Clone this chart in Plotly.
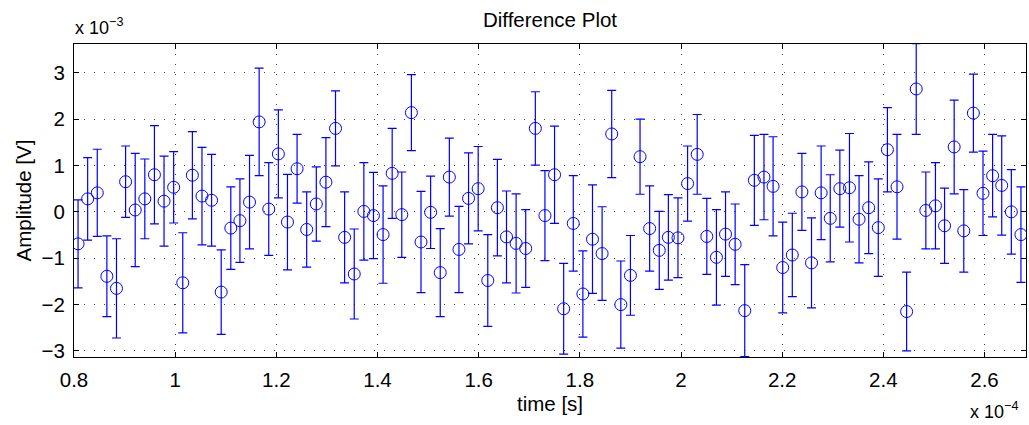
import plotly.graph_objects as go

# time in units of 1e-4 s
time_e4 = [0.808, 0.827, 0.846, 0.865, 0.884, 0.902, 0.921, 0.940, 0.959, 0.978,
           0.997, 1.015, 1.034, 1.053, 1.072, 1.091, 1.110, 1.128, 1.147, 1.166,
           1.185, 1.204, 1.222, 1.241, 1.260, 1.279, 1.298, 1.317, 1.335, 1.354,
           1.373, 1.392, 1.411, 1.429, 1.448, 1.467, 1.486, 1.505, 1.524, 1.542,
           1.561, 1.580, 1.599, 1.618, 1.637, 1.655, 1.674, 1.693, 1.712, 1.731,
           1.750, 1.768, 1.787, 1.806, 1.825, 1.844, 1.863, 1.881, 1.900, 1.919,
           1.938, 1.957, 1.975, 1.994, 2.013, 2.032, 2.051, 2.070, 2.088, 2.107,
           2.126, 2.145, 2.164, 2.182, 2.201, 2.220, 2.239, 2.258, 2.277, 2.295,
           2.314, 2.333, 2.352, 2.371, 2.390, 2.408, 2.427, 2.446, 2.465, 2.484,
           2.503, 2.521, 2.540, 2.559, 2.578, 2.597, 2.616, 2.634, 2.653, 2.672]

# amplitude difference in units of 1e-3 V
amp_e3 = [-0.69, 0.28, 0.41, -1.39, -1.65, 0.65, 0.04, 0.28, 0.80, 0.23,
          0.53, -1.53, 0.79, 0.34, 0.25, -1.73, -0.35, -0.19, 0.21, 1.94,
          0.06, 1.25, -0.22, 0.93, -0.38, 0.17, 0.64, 1.80, -0.55, -1.34,
          0.01, -0.08, -0.49, 0.83, -0.06, 2.14, -0.65, -0.01, -1.31, 0.75,
          -0.81, 0.29, 0.50, -1.48, 0.09, -0.54, -0.68, -0.79, 1.80, -0.08,
          0.80, -2.09, -0.25, -1.77, -0.59, -0.90, 1.68, -2.00, -1.37, 1.19,
          -0.36, -0.83, -0.55, -0.56, 0.61, 1.24, -0.53, -0.98, -0.48, -0.70,
          -2.13, 0.68, 0.75, 0.55, -1.20, -0.93, 0.43, -1.10, 0.41, -0.14,
          0.50, 0.52, -0.16, 0.09, -0.34, 1.34, 0.54, -2.15, 2.65, 0.03,
          0.13, -0.30, 1.40, -0.41, 2.13, 0.40, 0.78, 0.57, 0.00, -0.49]

err_e3 = [0.95, 0.89, 0.94, 0.87, 1.07, 0.77, 1.22, 0.86, 1.06, 0.97,
          0.77, 1.08, 0.94, 1.05, 0.99, 0.91, 0.89, 0.90, 1.01, 1.16,
          1.00, 0.95, 1.03, 0.74, 0.81, 0.80, 0.96, 0.81, 0.98, 0.97,
          1.05, 0.93, 1.05, 0.97, 0.92, 0.82, 1.09, 0.78, 0.95, 0.84,
          0.93, 0.98, 0.91, 0.99, 1.04, 0.99, 1.07, 0.84, 0.79, 0.97,
          1.05, 0.98, 1.03, 0.93, 1.17, 1.01, 0.94, 0.94, 0.86, 0.81,
          0.92, 0.84, 0.92, 0.86, 0.81, 0.86, 0.82, 1.03, 0.91, 0.87,
          0.99, 0.97, 0.92, 1.07, 0.98, 0.90, 0.83, 0.97, 1.01, 0.94,
          0.83, 1.17, 0.94, 0.99, 1.05, 0.91, 1.13, 0.85, 0.98, 0.83,
          0.93, 0.81, 1.01, 0.89, 0.84, 0.91, 0.89, 1.07, 0.91, 1.03]

x_ticks = [0.8, 1.0, 1.2, 1.4, 1.6, 1.8, 2.0, 2.2, 2.4, 2.6]
x_tick_text = ["0.8", "1", "1.2", "1.4", "1.6", "1.8", "2", "2.2", "2.4", "2.6"]
y_ticks = [-3, -2, -1, 0, 1, 2, 3]
y_tick_text = ["\u22123", "\u22122", "\u22121", "0", "1", "2", "3"]

BLUE = "rgb(0,0,255)"
FONT = "Liberation Sans, Arial, Helvetica, sans-serif"
FS = 20.5

W, H = 1029, 425
ML, MR, MT, MB = 74, 3, 44, 68
PW = W - ML - MR
PH = H - MT - MB

fig = go.Figure()
fig.add_trace(go.Scatter(
    x=time_e4, y=amp_e3, mode="markers",
    marker=dict(symbol="circle-open", size=12, color=BLUE, line=dict(width=1, color=BLUE)),
    error_y=dict(type="data", array=err_e3, visible=True, color=BLUE, thickness=1.2, width=4.5),
    showlegend=False, cliponaxis=True,
))

axis_common = dict(
    showline=True, linecolor="black", linewidth=1, mirror="allticks",
    ticks="inside", ticklen=5, tickcolor="black", tickwidth=1,
    showgrid=True, gridcolor="rgba(0,0,0,0.75)", gridwidth=1, griddash="1px,9px",
    zeroline=False, tickfont=dict(family=FONT, size=FS, color="black"),
    automargin=False,
)

fig.update_xaxes(range=[0.8, 2.682], tickvals=x_ticks, ticktext=x_tick_text,
                 ticklabelstandoff=4, **axis_common)
fig.update_yaxes(range=[-3.13, 3.62], tickvals=y_ticks, ticktext=y_tick_text,
                 ticklabelstandoff=4, **axis_common)

small = dict(family=FONT, size=18, color="black")
big = dict(family=FONT, size=FS, color="black")

fig.update_layout(
    width=W, height=H,
    margin=dict(l=ML, r=MR, t=MT, b=MB, autoexpand=False),
    paper_bgcolor="white", plot_bgcolor="white",
    font=big,
    title=dict(text="Difference Plot", x=(ML + PW / 2) / W, xanchor="center",
               y=1 - 19.5 / H, yanchor="middle", font=big),
    annotations=[
        dict(text="time [s]", xref="paper", yref="paper", x=0.5, y=0,
             xanchor="center", yanchor="top", yshift=-33, showarrow=False, font=big),
        dict(text="Amplitude [V]", xref="paper", yref="paper", x=(23 - ML) / PW, y=0.5,
             xanchor="center", yanchor="middle", textangle=-90, showarrow=False, font=big),
        dict(text="x 10<sup>\u22123</sup>", xref="paper", yref="paper", x=-1 / PW, y=1.0,
             xanchor="left", yanchor="bottom", yshift=4, showarrow=False, font=small),
        dict(text="x 10<sup>\u22124</sup>", xref="paper", yref="paper", x=(968 - ML) / PW, y=0.0,
             xanchor="left", yanchor="top", yshift=-40, showarrow=False, font=small),
    ],
)

fig.write_html("out.html", config={"displayModeBar": False},
               post_script="document.body.style.margin='0';document.body.style.padding='0';")
